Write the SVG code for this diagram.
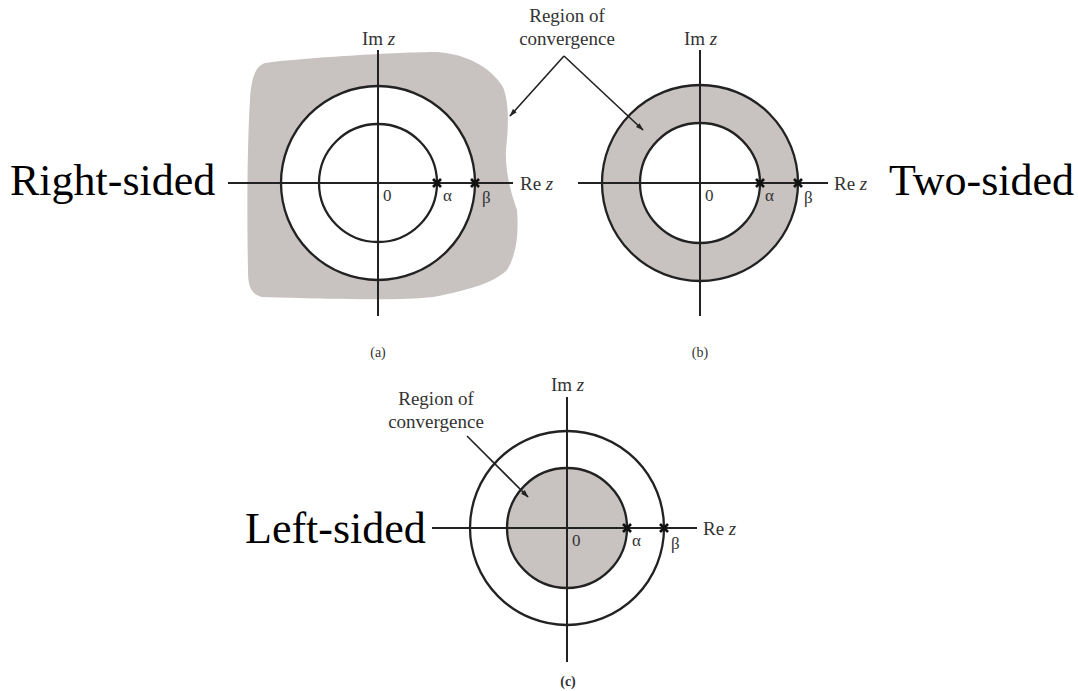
<svg xmlns="http://www.w3.org/2000/svg" width="1078" height="691" viewBox="0 0 1078 691">
<style>
.ax{stroke:#222;stroke-width:2;fill:none}
.ci{stroke:#222;stroke-width:2.3;fill:none}
.roc{fill:#c8c2c0;stroke:none}
.xm{stroke:#111;stroke-width:2.6}
.big{font-family:"Liberation Serif",serif;font-size:44px;fill:#000}
.lab{font-family:"Liberation Serif",serif;font-size:19px;fill:#333}
.sm{font-family:"Liberation Serif",serif;font-size:17px;fill:#333}
.roct{font-family:"Liberation Serif",serif;font-size:19px;fill:#333;text-anchor:middle}
.cap{font-family:"Liberation Serif",serif;font-size:14px;fill:#333;text-anchor:middle}
.arr{stroke:#222;stroke-width:1.6;fill:none}
</style>
<defs>
<marker id="ah" viewBox="0 0 10 10" refX="9" refY="5" markerWidth="8" markerHeight="8" orient="auto" markerUnits="userSpaceOnUse">
<path d="M0,1.8 L10,5 L0,8.2 z" fill="#222"/>
</marker>
</defs>

<g id="label-right-sided"><text class="big" x="10" y="195">Right-sided</text></g>
<g id="label-two-sided"><text class="big" x="889" y="195">Two-sided</text></g>
<g id="label-left-sided"><text class="big" x="245" y="543">Left-sided</text></g>

<g id="diagram-a">
<path class="roc" d="M265,63 C300,58 400,52 437,52 C465,54 490,66 503,87 C510,105 508,130 506,150 C505,170 510,190 517,210 C519,235 516,255 507,270 C495,282 470,290 433,297 C400,301 330,299 262,297 C250,294 248,285 248,270 C247,220 247,150 250,100 C251,80 255,66 265,63 z"/>
<circle class="ci" cx="378" cy="183" r="97" style="fill:#fff"/>
<circle class="ci" cx="378" cy="183" r="59"/>
<line class="ax" x1="378" y1="50" x2="378" y2="316"/>
<line class="ax" x1="228" y1="183" x2="513" y2="183"/>
<g class="xm"><line x1="433" y1="179" x2="441" y2="187"/><line x1="433" y1="187" x2="441" y2="179"/><line x1="471" y1="179" x2="479" y2="187"/><line x1="471" y1="187" x2="479" y2="179"/></g>
<text class="lab" x="362" y="45">Im <tspan font-style="italic">z</tspan></text>
<text class="lab" x="520" y="190">Re <tspan font-style="italic">z</tspan></text>
<text class="sm" x="383" y="201">0</text>
<text class="sm" x="443" y="201">α</text>
<text class="sm" x="482" y="203">β</text>
<text class="cap" x="378" y="357">(a)</text>
</g>

<g id="diagram-b">
<path class="roc" fill-rule="evenodd" d="M602,183 a98,98 0 1,0 196,0 a98,98 0 1,0 -196,0 z M640,183 a60,60 0 1,0 120,0 a60,60 0 1,0 -120,0 z"/>
<circle class="ci" cx="700" cy="183" r="98"/>
<circle class="ci" cx="700" cy="183" r="60"/>
<line class="ax" x1="700" y1="50" x2="700" y2="316"/>
<line class="ax" x1="578" y1="183" x2="828" y2="183"/>
<g class="xm"><line x1="756" y1="179" x2="764" y2="187"/><line x1="756" y1="187" x2="764" y2="179"/><line x1="794" y1="179" x2="802" y2="187"/><line x1="794" y1="187" x2="802" y2="179"/></g>
<text class="lab" x="684" y="45">Im <tspan font-style="italic">z</tspan></text>
<text class="lab" x="834" y="190">Re <tspan font-style="italic">z</tspan></text>
<text class="sm" x="705" y="201">0</text>
<text class="sm" x="765" y="201">α</text>
<text class="sm" x="804" y="203">β</text>
<text class="cap" x="700" y="357">(b)</text>
</g>

<g id="diagram-c">
<circle class="roc" cx="567" cy="528" r="60"/>
<circle class="ci" cx="567" cy="528" r="97"/>
<circle class="ci" cx="567" cy="528" r="60"/>
<line class="ax" x1="567" y1="397" x2="567" y2="662"/>
<line class="ax" x1="432" y1="528" x2="697" y2="528"/>
<g class="xm"><line x1="623" y1="524" x2="631" y2="532"/><line x1="623" y1="532" x2="631" y2="524"/><line x1="660" y1="524" x2="668" y2="532"/><line x1="660" y1="532" x2="668" y2="524"/></g>
<text class="lab" x="551" y="391">Im <tspan font-style="italic">z</tspan></text>
<text class="lab" x="703" y="535">Re <tspan font-style="italic">z</tspan></text>
<text class="sm" x="572" y="546">0</text>
<text class="sm" x="632" y="546">α</text>
<text class="sm" x="671" y="549">β</text>
<text class="cap" x="568" y="686" font-weight="bold">(c)</text>
</g>

<g id="roc-label-top">
<text class="roct" x="567" y="22">Region of</text>
<text class="roct" x="567" y="45">convergence</text>
</g>
<g id="roc-label-c">
<text class="roct" x="436" y="405">Region of</text>
<text class="roct" x="436" y="428">convergence</text>
</g>

<g id="connectors">
<line class="arr" x1="564" y1="56" x2="510" y2="116" marker-end="url(#ah)"/>
<line class="arr" x1="564" y1="56" x2="643" y2="130" marker-end="url(#ah)"/>
<line class="arr" x1="467" y1="436" x2="528" y2="497" marker-end="url(#ah)"/>
</g>
</svg>
